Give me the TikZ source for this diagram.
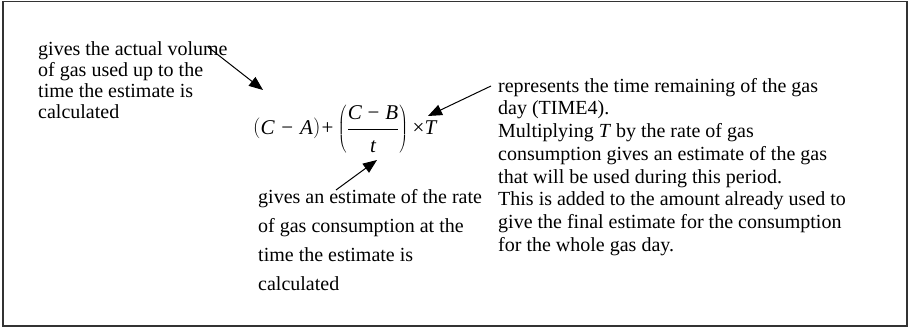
\documentclass[tikz,border=0pt]{standalone}
\usepackage{fontspec}
\setmainfont{Liberation Serif}
\usetikzlibrary{arrows.meta}
\newcommand\mvar[1]{\mbox{\itshape #1}}
\newcommand\mtxt[1]{\mbox{#1}}
\begin{document}
\begin{tikzpicture}[x=1pt,y=-1pt,
  txt/.style={anchor=north west,inner sep=0pt,align=left},
  ptr/.style={line width=1pt,-{Triangle[length=14pt,width=11pt]}}]
\useasboundingbox (0,0) rectangle (911,329);
\draw[line width=1.5pt,black!80] (3,1.5) rectangle (907,326);
\node[txt,font=\fontsize{20}{21}\selectfont] (left) at (38,40)
  {\rule{0pt}{15pt}gives the actual volume\\of gas used up to the\\time the estimate is\\calculated};
\node[txt,font=\fontsize{20}{22.7}\selectfont] (right) at (498,77)
  {\rule{0pt}{15pt}represents the time remaining of the gas\\day (TIME4).\\Multiplying \textit{T} by the rate of gas\\consumption gives an estimate of the gas\\that will be used during this period.\\This is added to the amount already used to\\give the final estimate for the consumption\\for the whole gas day.};
\node[inner sep=0pt,anchor=base west,font=\fontsize{21}{24}\selectfont] (formula) at (253,134)
  {$\displaystyle\bigl(\mvar{C}\mkern6mu\mtxt{−}\mkern6mu\mvar{A}\bigr)\mkern1mu\mtxt{+}\mkern1mu\left(\frac{\mvar{C}\mkern5mu\mtxt{−}\mkern5mu\mvar{B}\rule[-3pt]{0pt}{3pt}}{\rule{0pt}{22pt}\mvar{t}}\right)\mkern1mu\mtxt{×}\mvar{T}$};
\node[txt,font=\fontsize{20}{29}\selectfont] (mid) at (258,188)
  {\rule{0pt}{15pt}gives an estimate of the rate\\of gas consumption at the\\time the estimate is\\calculated};
\coordinate (a1s) at (208,47);
\coordinate (a1e) at (263,90);
\coordinate (a2s) at (336,190);
\coordinate (a2e) at (377,160);
\coordinate (a3s) at (491,86);
\coordinate (a3e) at (428,116);
\draw[ptr] (a1s) -- (a1e);
\draw[ptr] (a2s) -- (a2e);
\draw[ptr] (a3s) -- (a3e);
\end{tikzpicture}
\end{document}
